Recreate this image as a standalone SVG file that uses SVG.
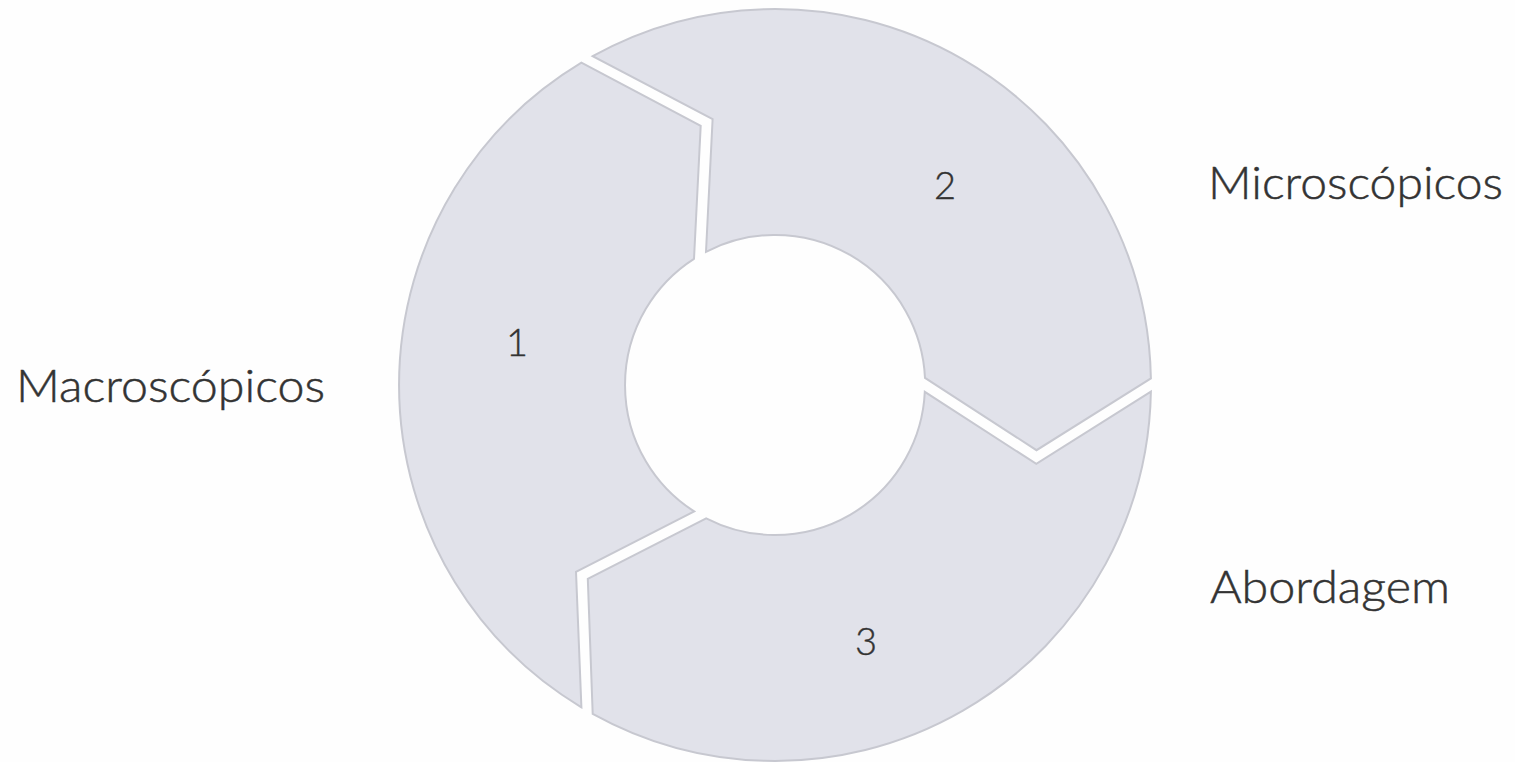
<svg xmlns="http://www.w3.org/2000/svg" width="1515" height="762" viewBox="0 0 1515 762">
<style>
.seg{fill:#e1e2ea;stroke:#c7c8d0;stroke-width:2;stroke-linejoin:miter}
.num{font-family:Lato,"Liberation Sans",sans-serif;font-size:38px;font-weight:300;fill:#333333;stroke:#333333;stroke-width:0.4;text-anchor:middle}
.lbl{font-family:Lato,"Liberation Sans",sans-serif;font-size:45px;font-weight:300;fill:#333333;stroke:#333333;stroke-width:0.5}
</style>
<rect width="1515" height="762" fill="#fefefe"/>
<g id="segment-1">
<path class="seg" d="M581.4,707.3 A376 376 0 0 1 581.4,62.7 L700.7,125.9 L694.0,258.8 A150 150 0 0 0 694.2,511.4 L576.0,571.9 Z"/>
<text class="num" x="517" y="356">1</text>
</g>
<g id="segment-2">
<path class="seg" d="M592.7,56.2 A376 376 0 0 1 1150.9,378.4 L1036.5,450.2 L925.0,377.9 A150 150 0 0 0 706.0,251.8 L712.6,119.2 Z"/>
<text class="num" x="945" y="199">2</text>
</g>
<g id="segment-3">
<path class="seg" d="M1150.9,391.6 A376 376 0 0 1 592.7,713.8 L587.8,578.9 L706.2,518.3 A150 150 0 0 0 924.8,391.8 L1036.3,463.9 Z"/>
<text class="num" x="866" y="655">3</text>
</g>
<g id="label-macro">
<text class="lbl" x="16" y="402" textLength="309" lengthAdjust="spacingAndGlyphs">Macroscópicos</text>
</g>
<g id="label-micro">
<text class="lbl" x="1208" y="199" textLength="295" lengthAdjust="spacingAndGlyphs">Microscópicos</text>
</g>
<g id="label-abordagem">
<text class="lbl" x="1210" y="603" textLength="240" lengthAdjust="spacingAndGlyphs">Abordagem</text>
</g>
<g id="connectors"></g>
</svg>
